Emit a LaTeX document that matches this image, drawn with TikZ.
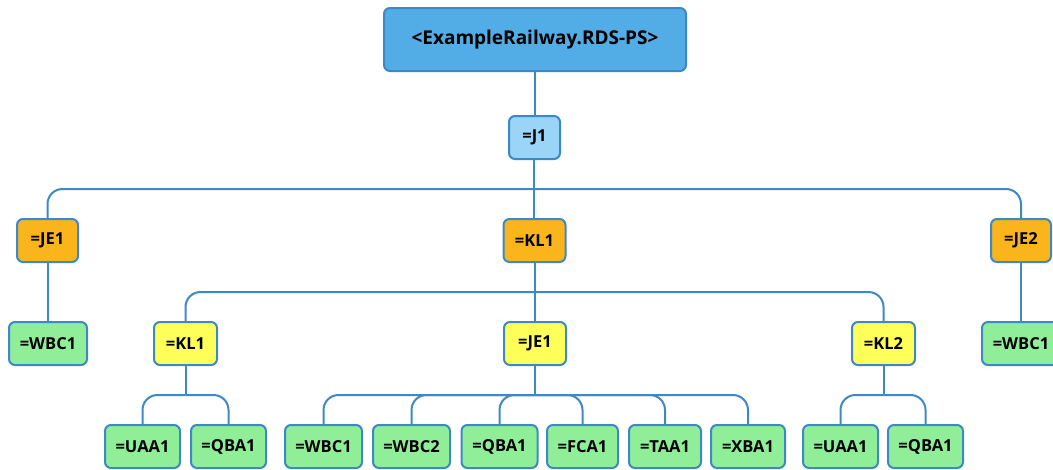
\documentclass[tikz,border=0pt]{standalone}
\usepackage{fontspec}
\setmainfont{Open Sans}
\begin{document}
\begin{tikzpicture}[x=1pt,y=-1pt,
  line/.style={draw=linec, line width=2pt},
  box/.style={draw=linec, line width=2pt, rounded corners=6pt, minimum height=43pt,
    inner xsep=3pt, inner ysep=0pt, font=\bfseries\fontsize{16.5}{18}\selectfont, text=black},
  rootbox/.style={box, fill=rootc, minimum width=302pt, minimum height=63pt,
    font=\bfseries\fontsize{19}{21}\selectfont},
  jbox/.style={box, fill=jc},
  obox/.style={box, fill=orangec},
  ybox/.style={box, fill=yellowc},
  gbox/.style={box, fill=greenc},
  branch/.style={line, rounded corners=15pt},
]
\definecolor{linec}{HTML}{3D88C7}
\definecolor{rootc}{HTML}{52ACE5}
\definecolor{jc}{HTML}{9AD4F7}
\definecolor{orangec}{HTML}{F9B51B}
\definecolor{yellowc}{HTML}{FFFF59}
\definecolor{greenc}{HTML}{90EE98}

\useasboundingbox (0,0) rectangle (1053,469);

% bus heights
\def\busA{189}
\def\busB{292}
\def\busC{395}

% straight trunks first, boxes on top
\draw[line] (534.5,71) -- (534.5,116);
\draw[line] (534,159) -- (534,219);
\draw[line] (48,262) -- (48,322);
\draw[line] (1021,262) -- (1021,322);
\draw[line] (534.5,262) -- (534.5,322);
\draw[line] (185.5,365) -- (185.5,\busC);
\draw[line] (535,365) -- (535,\busC);
\draw[line] (883.5,365) -- (883.5,\busC);

% nodes
\node[rootbox] (root) at (535,39.5) {<ExampleRailway.RDS-PS>};
\node[jbox, minimum width=51pt] (j1) at (534.5,137.5) {=J1};

\node[obox, minimum width=61pt] (je1) at (47.5,240.5) {=JE1};
\node[obox, minimum width=62pt] (kl1) at (534.5,240.5) {=KL1};
\node[obox, minimum width=60pt] (je2) at (1021,240.5) {=JE2};

\node[gbox, minimum width=78pt] (wbcA) at (48,343.5) {=WBC1};
\node[ybox, minimum width=63pt] (kl1b) at (185.5,343.5) {=KL1};
\node[ybox, minimum width=62pt] (je1b) at (535,343.5) {=JE1};
\node[ybox, minimum width=63pt] (kl2) at (883.5,343.5) {=KL2};
\node[gbox, minimum width=78pt] (wbcB) at (1021,343.5) {=WBC1};

\node[gbox, minimum width=75pt] (uaaA) at (142.5,446.5) {=UAA1};
\node[gbox, minimum width=75pt] (qbaA) at (228.5,446.5) {=QBA1};
\node[gbox, minimum width=77pt] (wbc1) at (323.5,446.5) {=WBC1};
\node[gbox, minimum width=77pt] (wbc2) at (411.5,446.5) {=WBC2};
\node[gbox, minimum width=76pt] (qbaB) at (499.5,446.5) {=QBA1};
\node[gbox, minimum width=71pt] (fca1) at (582.5,446.5) {=FCA1};
\node[gbox, minimum width=72pt] (taa1) at (665,446.5) {=TAA1};
\node[gbox, minimum width=74pt] (xba1) at (748,446.5) {=XBA1};
\node[gbox, minimum width=75pt] (uaaB) at (840.5,446.5) {=UAA1};
\node[gbox, minimum width=75pt] (qbaC) at (925.5,446.5) {=QBA1};

% rounded branches from each bus to its child
\draw[branch] (j1.south |- 0,\busA) -- (je1.north |- 0,\busA) -- (je1.north);
\draw[branch] (j1.south |- 0,\busA) -- (je2.north |- 0,\busA) -- (je2.north);

\draw[branch] (kl1.south |- 0,\busB) -- (kl1b.north |- 0,\busB) -- (kl1b.north);
\draw[branch] (kl1.south |- 0,\busB) -- (kl2.north |- 0,\busB) -- (kl2.north);

\foreach \c in {uaaA,qbaA}
  \draw[branch] (kl1b.south |- 0,\busC) -- (\c.north |- 0,\busC) -- (\c.north);
\foreach \c in {wbc1,wbc2,qbaB,fca1,taa1,xba1}
  \draw[branch] (je1b.south |- 0,\busC) -- (\c.north |- 0,\busC) -- (\c.north);
\foreach \c in {uaaB,qbaC}
  \draw[branch] (kl2.south |- 0,\busC) -- (\c.north |- 0,\busC) -- (\c.north);
\end{tikzpicture}
\end{document}
